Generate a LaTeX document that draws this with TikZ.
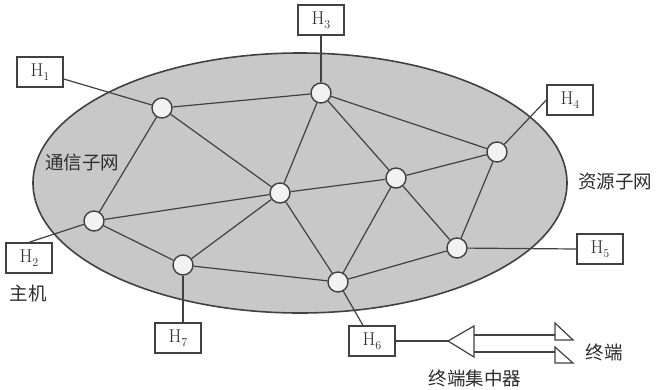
\documentclass[tikz,border=0pt]{standalone}
\usepackage{fontspec}
\newfontfamily\cjk{Noto Sans CJK SC}
\definecolor{lc}{RGB}{65,65,65}
\definecolor{swf}{RGB}{242,242,242}
\definecolor{elf}{RGB}{200,200,200}
\definecolor{tc}{RGB}{45,45,45}
\newcommand\hsub[1]{H\raisebox{-4pt}{\fontsize{12}{12}\selectfont #1}}
\begin{document}
\begin{tikzpicture}[x=1pt,y=-1pt,
  line/.style={draw=lc, line width=1.2pt},
  sw/.style={circle, draw=lc, fill=swf, line width=1.4pt, minimum size=20pt, inner sep=0pt},
  host/.style={rectangle, draw=lc, fill=white, line width=1.4pt, minimum width=46pt, minimum height=30pt, inner sep=0pt, text=tc, font=\fontsize{18.5}{18.5}\selectfont},
  lab/.style={font=\cjk\fontsize{18.5}{18.5}\selectfont, text=tc, inner sep=0pt}]
\useasboundingbox (0,0) rectangle (656,389);
\fill[white] (0,0) rectangle (656,389);
% ellipse (communication subnet)
\draw[draw=lc, fill=elf, line width=1.6pt] (300,183) ellipse [x radius=267pt, y radius=130pt];
% switching nodes
\node[sw] (A) at (162,108) {};
\node[sw] (B) at (321,93) {};
\node[sw] (C) at (497,152) {};
\node[sw] (D) at (280,193) {};
\node[sw] (E) at (396,178) {};
\node[sw] (F) at (94,221) {};
\node[sw] (G) at (183,265) {};
\node[sw] (H) at (338,282) {};
\node[sw] (I) at (457,248) {};
% hosts
\node[host] (H1) at (40,72) {\hsub{1}};
\node[host] (H2) at (29,258) {\hsub{2}};
\node[host] (H3) at (321,20) {\hsub{3}};
\node[host] (H4) at (570,100) {\hsub{4}};
\node[host] (H5) at (600,249) {\hsub{5}};
\node[host] (H6) at (372,341) {\hsub{6}};
\node[host] (H7) at (178,338) {\hsub{7}};
% subnet links
\foreach \u/\v in {A/B, A/D, A/F, B/D, B/E, B/C, C/E, C/I, D/E, D/F, D/G, D/H, E/H, E/I, H/I, F/G, G/H}
  \draw[line] (\u) -- (\v);
% host links
\draw[line] (A) -- (H1);
\draw[line] (F) -- (H2.north);
\draw[line] (B) -- (H3);
\draw[line] (C) -- (H4.west);
\draw[line] (I) -- (H5.west);
\draw[line] (H) -- (H6);
\draw[line] (G) -- (G |- H7.north);
% terminal concentrator
\coordinate (tip) at (448,341);
\coordinate (c1) at (474,335);
\coordinate (c2) at (474,352);
\coordinate (t1) at (555,335);
\coordinate (t2) at (555,352);
\draw[line] (H6) -- (tip);
\draw[line] (tip) -- (474,326) -- (474,357) -- cycle;
\draw[line] (c1) -- (t1);
\draw[line] (c2) -- (t2);
\draw[line] (555,323) -- (555,340) -- (573,340) -- cycle;
\draw[line] (555,347) -- (555,363) -- (573,363) -- cycle;
% labels
\node[lab] (l1) at (82,162) {通信子网};
\node[lab] (l2) at (615,182) {资源子网};
\node[lab] (l3) at (28,293) {主机};
\node[lab] (l4) at (475,378) {终端集中器};
\node[lab] (l5) at (604,352) {终端};
\end{tikzpicture}
\end{document}
